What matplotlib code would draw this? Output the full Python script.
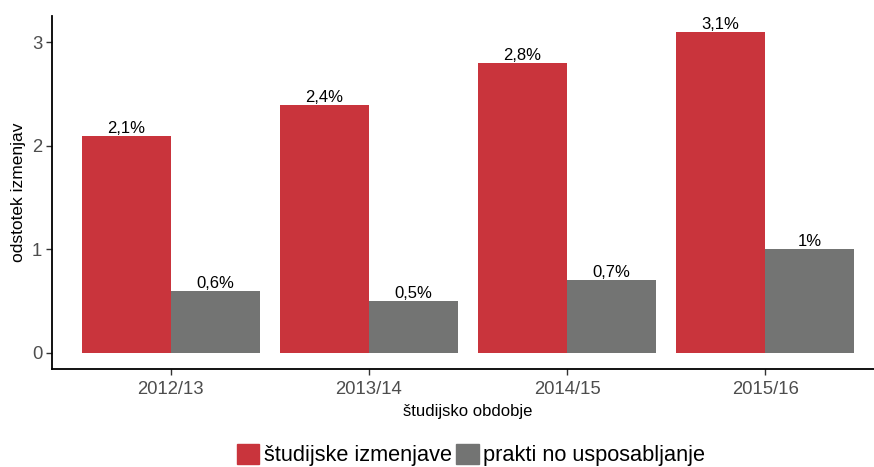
import matplotlib.pyplot as plt
from matplotlib.patches import Patch
import numpy as np

# data
periods = ["2012/13", "2013/14", "2014/15", "2015/16"]
izmenjave = [2.1, 2.4, 2.8, 3.1]
usposabljanje = [0.6, 0.5, 0.7, 1.0]
lbl_izmenjave = ["2,1%", "2,4%", "2,8%", "3,1%"]
lbl_usposabljanje = ["0,6%", "0,5%", "0,7%", "1%"]

red = "#C9343C"
grey = "#737473"

plt.rcParams['font.family'] = ['Liberation Sans', 'DejaVu Sans']

fig = plt.figure(figsize=(8.74, 4.67), dpi=100)
W, H = 874, 467
ax = fig.add_axes([52 / W, (H - 369) / H, (884 - 52) / W, (369 - 16) / H])

x = np.arange(len(periods))
w = 0.45
b1 = ax.bar(x - w / 2, izmenjave, width=w, color=red)
b2 = ax.bar(x + w / 2, usposabljanje, width=w, color=grey)

for bar, t in zip(b1, lbl_izmenjave):
    ax.text(bar.get_x() + bar.get_width() / 2, bar.get_height(), t,
            ha='center', va='bottom', fontsize=12, color='black')
for bar, t in zip(b2, lbl_usposabljanje):
    ax.text(bar.get_x() + bar.get_width() / 2, bar.get_height(), t,
            ha='center', va='bottom', fontsize=12, color='black')

ax.set_xlim(-0.6, 3.6)
ax.set_ylim(-0.155, 3.255)
ax.set_xticks(x)
ax.set_xticklabels(periods)
ax.set_yticks([0, 1, 2, 3])
ax.tick_params(axis='both', colors='#333333', labelcolor='#4D4D4D',
               labelsize=13.3, length=4, width=1)
ax.tick_params(axis='x', pad=5)
ax.tick_params(axis='y', pad=3)

for s in ['top', 'right']:
    ax.spines[s].set_visible(False)
for s in ['left', 'bottom']:
    ax.spines[s].set_linewidth(1.3)
    ax.spines[s].set_color('black')

ax.set_xlabel("študijsko obdobje", fontsize=12, labelpad=4)
ax.set_ylabel("odstotek izmenjav", fontsize=12.5, labelpad=4)

handles = [Patch(color=red, label="študijske izmenjave"),
           Patch(color=grey, label="prakti no usposabljanje")]
fig.legend(handles=handles, loc='lower center', ncol=2,
           bbox_to_anchor=(471 / W, 0.002), frameon=False,
           fontsize=15.7, handlelength=1.05, handleheight=1.05,
           handletextpad=0.2, columnspacing=0.2, borderpad=0, borderaxespad=0)

fig.savefig("out.png", dpi=100)
